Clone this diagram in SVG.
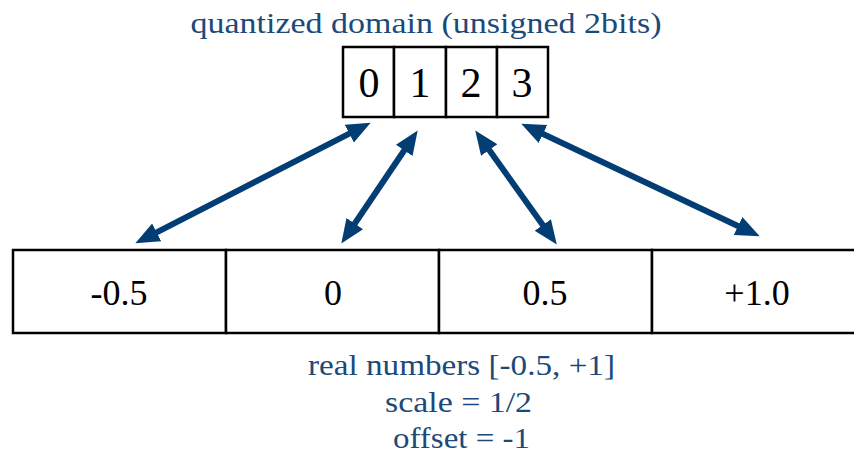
<svg xmlns="http://www.w3.org/2000/svg" width="854" height="461" viewBox="0 0 854 461">
<style>
.cell{fill:#ffffff;stroke:#000000;stroke-width:2.5}
text{font-family:'Liberation Serif','Times New Roman',Times,serif}
.num{fill:#000000;text-anchor:middle}
.lbl{fill:#1b4a7a;text-anchor:middle}
.arr{stroke:#023e73;stroke-width:6;fill:none;marker-start:url(#ah);marker-end:url(#ah)}
</style>
<defs>
<marker id="ah" markerUnits="userSpaceOnUse" markerWidth="24" markerHeight="22" refX="11" refY="11" orient="auto-start-reverse">
<path d="M0,1 L24,11 L0,21 z" fill="#023e73"/>
</marker>
</defs>
<rect width="854" height="461" fill="#ffffff"/>
<text class="lbl" x="426" y="33" font-size="30" font-family="Liberation Serif" textLength="471" lengthAdjust="spacingAndGlyphs">quantized domain (unsigned 2bits)</text>
<g id="q0"><rect class="cell" x="343" y="47" width="51" height="70"/><text class="num" x="369" y="97" font-size="42">0</text></g>
<g id="q1"><rect class="cell" x="394" y="47" width="52" height="70"/><text class="num" x="420" y="97" font-size="42">1</text></g>
<g id="q2"><rect class="cell" x="446" y="47" width="51" height="70"/><text class="num" x="471" y="97" font-size="42">2</text></g>
<g id="q3"><rect class="cell" x="497" y="47" width="51" height="70"/><text class="num" x="522" y="97" font-size="42">3</text></g>
<g id="r0"><rect class="cell" x="13" y="250" width="213" height="83"/><text class="num" x="119" y="305" font-size="36">-0.5</text></g>
<g id="r1"><rect class="cell" x="226" y="250" width="213" height="83"/><text class="num" x="333" y="305" font-size="36">0</text></g>
<g id="r2"><rect class="cell" x="439" y="250" width="213" height="83"/><text class="num" x="545" y="305" font-size="36">0.5</text></g>
<g id="r3"><rect class="cell" x="652" y="250" width="213" height="83"/><text class="num" x="757" y="305" font-size="36">+1.0</text></g>
<g id="connectors">
<line class="arr" x1="146.9" y1="237.4" x2="359.1" y2="128.6"/>
<line class="arr" x1="348.6" y1="232.7" x2="410.4" y2="141.3"/>
<line class="arr" x1="482.8" y1="141.1" x2="549.2" y2="233.9"/>
<line class="arr" x1="533.0" y1="129.3" x2="748.0" y2="230.7"/>
</g>
<text class="lbl" x="461.5" y="375" font-size="30" textLength="307" lengthAdjust="spacingAndGlyphs">real numbers [-0.5, +1]</text>
<text class="lbl" x="458.5" y="412" font-size="30" textLength="147" lengthAdjust="spacingAndGlyphs">scale = 1/2</text>
<text class="lbl" x="461.5" y="448" font-size="30" textLength="137" lengthAdjust="spacingAndGlyphs">offset = -1</text>
</svg>
